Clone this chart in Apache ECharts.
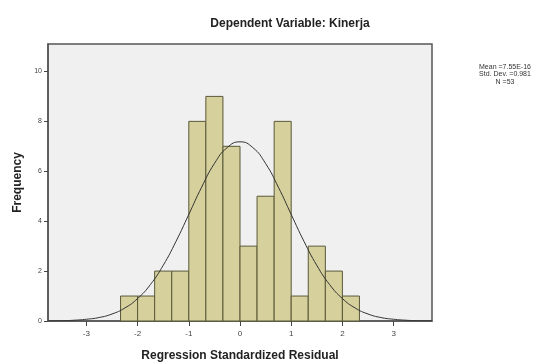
<!DOCTYPE html>
<html>
<head>
<meta charset="utf-8">
<script src="https://cdn.jsdelivr.net/npm/echarts@6/dist/echarts.min.js"></script>
<style>
html,body{margin:0;padding:0;background:#fff;}
#main{width:539px;height:363px;}
</style>
</head>
<body>
<div id="main"></div>
<script>
// histogram bins (regression standardized residual), width 1/3
var binEdges=[-2.333,-2,-1.667,-1.333,-1,-0.667,-0.333,0,0.333,0.667,1,1.333,1.667,2,2.333];
var counts=[1,1,2,2,8,9,7,3,5,8,1,3,2,1];

// normal curve
var curveX=[-3.75,-3.5,-3.25,-3,-2.75,-2.5,-2.25,-2,-1.75,-1.5,-1.25,-1,-0.75,-0.5,-0.25,0,
            0.25,0.5,0.75,1,1.25,1.5,1.75,2,2.25,2.5,2.75,3,3.25,3.5,3.75];
var curveY=[0.005,0.01,0.03,0.07,0.14,0.28,0.52,0.9,1.46,2.23,3.19,4.27,5.36,6.31,6.95,7.18,
            6.95,6.31,5.36,4.27,3.19,2.23,1.46,0.9,0.52,0.28,0.14,0.07,0.03,0.01,0.005];

var xTicks=[-3,-2,-1,0,1,2,3];
var yTicks=[0,2,4,6,8,10];
var statsText=['Mean =7.55E-16','Std. Dev. =0.981','N =53'];

var barData=[];
counts.forEach(function(c,i){barData.push([binEdges[i],binEdges[i+1],c])});
var lineData=[];
curveX.forEach(function(x,i){lineData.push([x,curveY[i]])});

var myChart=echarts.init(document.getElementById('main'))
myChart.setOption({
    animation:false,
    textStyle:{fontFamily:'Liberation Sans, Arial, sans-serif'},
    title:{
        text:'Dependent Variable: Kinerja',
        left:285,
        top:13,
        textAlign:'center',
        textStyle:{fontSize:12,fontWeight:'bold',color:'#222'}
    },
    graphic:[{
        type:'text',
        x:505,
        y:63,
        style:{
            text:statsText.join('\n'),
            fontSize:7,
            lineHeight:7.5,
            textAlign:'center',
            textVerticalAlign:'top',
            fill:'#333',
            fontFamily:'Liberation Sans, Arial, sans-serif'
        }
    }],
    grid:{
        left:48,right:107,top:44,bottom:42,
        outerBoundsMode:'none',
        containLabel:false,
        show:true,
        backgroundColor:'#f0f0f0',
        borderColor:'#555',
        borderWidth:1.5
    },
    xAxis:{
        type:'value',
        min:-3.75,
        max:3.75,
        name:'Regression Standardized Residual',
        nameLocation:'middle',
        nameGap:29,
        nameTextStyle:{fontSize:12,fontWeight:'bold',color:'#222'},
        axisLine:{show:true,onZero:false,lineStyle:{color:'#555',width:1.5}},
        axisTick:{show:true,length:5,lineStyle:{color:'#444'},customValues:xTicks},
        axisLabel:{fontSize:8,color:'#444',margin:9,customValues:xTicks},
        splitLine:{show:false}
    },
    yAxis:{
        type:'value',
        min:0,
        max:11.1,
        name:'Frequency',
        nameLocation:'middle',
        nameGap:19,
        nameTextStyle:{fontSize:12,fontWeight:'bold',color:'#222'},
        axisLine:{show:true,onZero:false,lineStyle:{color:'#555',width:1.5}},
        axisTick:{show:true,length:4,lineStyle:{color:'#444'},customValues:yTicks},
        axisLabel:{fontSize:7,color:'#444',margin:6,customValues:yTicks},
        splitLine:{show:false}
    },
    series:[
        {
            type:'custom',
            data:barData,
            renderItem:function(params,api){
                var p0=api.coord([api.value(0),api.value(2)]);
                var p1=api.coord([api.value(1),0]);
                return {
                    type:'rect',
                    shape:{x:p0[0],y:p0[1],width:p1[0]-p0[0],height:p1[1]-p0[1]},
                    style:{fill:'#d5d09c',stroke:'#5a5838',lineWidth:1}
                };
            },
            z:2
        },
        {
            type:'line',
            data:lineData,
            smooth:true,
            symbol:'none',
            lineStyle:{color:'#333',width:1},
            z:3
        }
    ]
})
</script>
</body>
</html>
